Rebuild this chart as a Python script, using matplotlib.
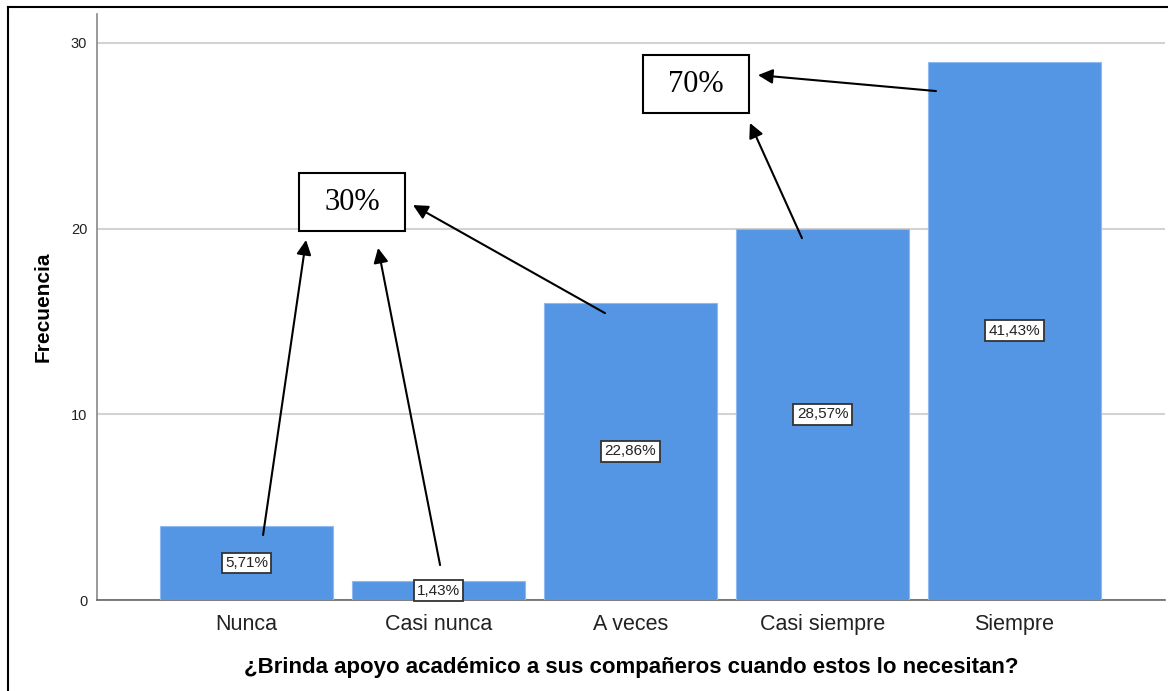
import matplotlib.pyplot as plt
from matplotlib.patches import Rectangle
from matplotlib.lines import Line2D

# datos del grafico
categorias = ['Nunca', 'Casi nunca', 'A veces', 'Casi siempre', 'Siempre']
frecuencia = [4, 1, 16, 20, 29]
porcentajes = ['5,71%', '1,43%', '22,86%', '28,57%', '41,43%']
yticks = [0, 10, 20, 30]

fig = plt.figure(figsize=(11.68, 6.91), dpi=100)
ax = fig.add_axes([97/1168, 91/691, 1068/1168, 586/691])

x = list(range(len(categorias)))
ax.bar(x, frecuencia, width=0.9, color='#5596e4', edgecolor='#8fbaf0', linewidth=0.8, zorder=3)

# etiquetas de porcentaje en el centro de cada barra
for xi, f, p in zip(x, frecuencia, porcentajes):
    ax.text(xi, f / 2, p, ha='center', va='center', fontsize=11, family='Liberation Sans', zorder=5,
            color='#222222', bbox=dict(boxstyle='square,pad=0.22', fc='white', ec='#333333', lw=1.3))

ax.set_xlim(-0.779, 4.784)
ax.set_ylim(0, 31.56)
ax.set_yticks(yticks)
ax.set_xticks(x)
ax.set_xticklabels(categorias, fontsize=15.5, color='#222222', family='Liberation Sans')
ax.tick_params(axis='y', labelsize=10.5, length=0, pad=7, labelcolor='#222222')
ax.tick_params(axis='x', length=0, pad=10)
for t in ax.get_yticklabels():
    t.set_family('Liberation Sans')
ax.grid(axis='y', color='#d3d3d3', lw=1.5, zorder=0)
for s in ['top', 'right']:
    ax.spines[s].set_visible(False)
ax.spines['left'].set_color('#888888')
ax.spines['bottom'].set_color('#666666')
ax.spines['left'].set_linewidth(1.2)
ax.spines['bottom'].set_linewidth(1.2)

ax.set_ylabel('Frecuencia', fontsize=15, fontweight='bold', family='Liberation Sans', labelpad=13)
ax.set_xlabel('¿Brinda apoyo académico a sus compañeros cuando estos lo necesitan?',
              fontsize=16, fontweight='bold', family='Liberation Sans', labelpad=16)

# cajas de resumen
cajas = [('30%', 0.55, 21.43), ('70%', 2.341, 27.79)]
for txt, cx, cy in cajas:
    w, h = 0.552, 3.12
    ax.add_patch(Rectangle((cx - w/2, cy - h/2), w, h, fc='white', ec='black', lw=1.5, zorder=6))
    ax.text(cx, cy, txt, ha='center', va='center', fontsize=22, family='Liberation Serif', zorder=7)

# flechas
flechas = [((0.086, 3.5), (0.31, 19.39)),
           ((1.008, 1.88), (0.685, 18.96)),
           ((1.867, 15.45), (0.867, 21.27)),
           ((2.893, 19.49), (2.622, 25.69)),
           ((3.591, 27.41), (2.664, 28.27))]
for cola, punta in flechas:
    ax.annotate('', xy=punta, xytext=cola, zorder=8,
                arrowprops=dict(arrowstyle='-|>', color='black', lw=1.5, mutation_scale=22,
                                shrinkA=0, shrinkB=0))

# borde de la figura
fig.add_artist(Line2D([8/1168, 1], [1 - 7/691, 1 - 7/691], color='black', lw=1.5))
fig.add_artist(Line2D([8/1168, 8/1168], [0, 1 - 7/691], color='black', lw=1.5))

fig.savefig('out.png', dpi=100)
